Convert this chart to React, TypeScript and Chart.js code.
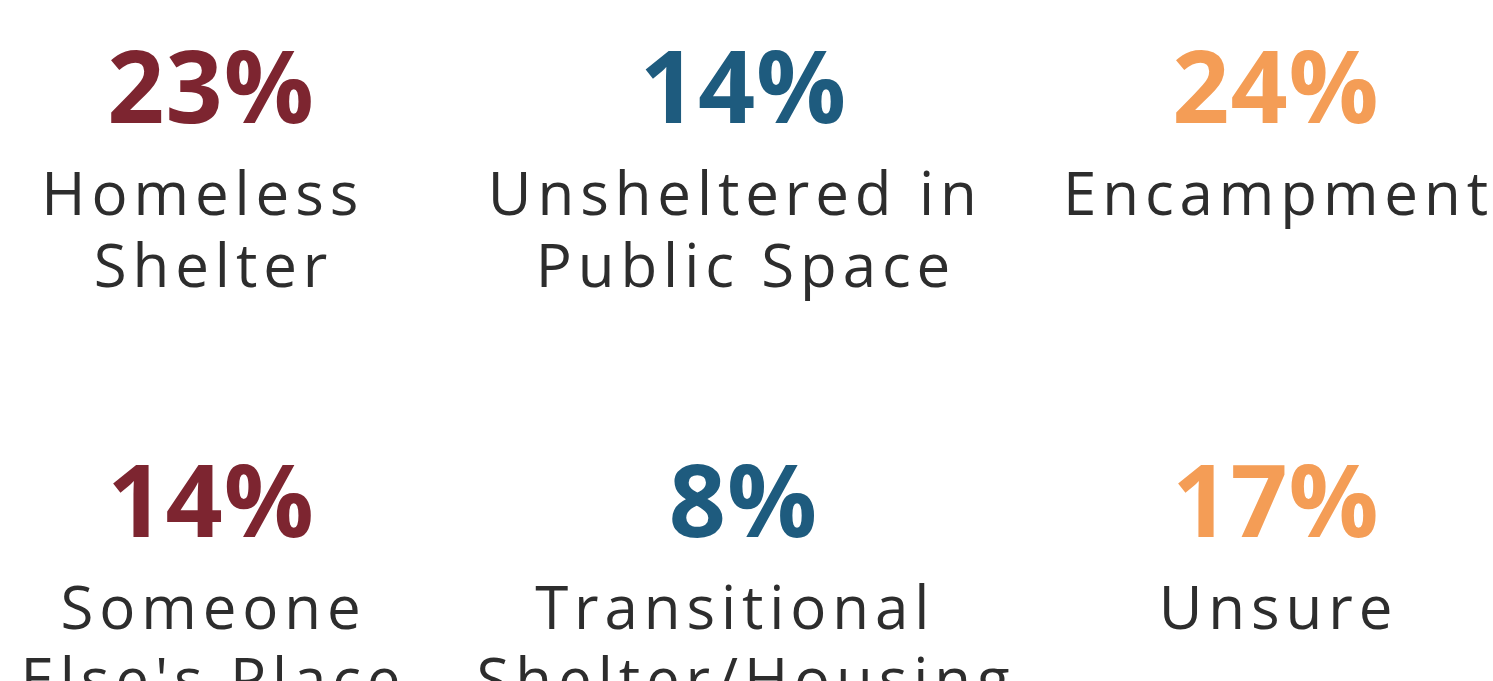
import React, { useEffect, useRef } from "react";
import { Chart, registerables } from "chart.js";

Chart.register(...registerables);

const categories: string[][] = [
  ["Homeless ", "Shelter"],
  ["Unsheltered in ", "Public Space"],
  ["Encampment"],
  ["Someone", "Else's Place"],
  ["Transitional ", "Shelter/Housing"],
  ["Unsure"],
];
const values: number[] = [23, 14, 24, 14, 8, 17];
const columnColors: string[] = ["#7d2530", "#1e5b7e", "#f49d56"];
const COLS = 3;

const tilePlugin = {
  id: "tileText",
  afterDatasetsDraw(chart: any) {
    const ctx = chart.ctx as CanvasRenderingContext2D;
    const meta = chart.getDatasetMeta(0);
    meta.data.forEach((pt: any, i: number) => {
      const x = pt.x;
      const y = pt.y;
      ctx.save();
      ctx.textAlign = "center";
      ctx.textBaseline = "alphabetic";
      (ctx as any).letterSpacing = "1px";
      ctx.font = "bold 100px 'Open Sans'";
      ctx.fillStyle = columnColors[i % COLS];
      ctx.fillText(values[i] + "%", x + 0.5, y);
      (ctx as any).letterSpacing = "5.9px";
      ctx.font = "60px 'Open Sans'";
      ctx.fillStyle = "#2d2d2d";
      categories[i].forEach((line, k) => {
        ctx.fillText(line, x + 3, y + 92 + k * 72);
      });
      ctx.restore();
    });
  },
};

export default function App() {
  const ref = useRef<HTMLCanvasElement | null>(null);
  useEffect(() => {
    document.body.style.margin = "0";
    document.body.style.overflow = "hidden";
    if (!ref.current) return;
    const chart = new Chart(ref.current, {
      type: "scatter",
      data: {
        datasets: [
          {
            data: values.map((v, i) => ({ x: i % COLS, y: Math.floor(i / COLS) })),
            pointRadius: 0,
            pointHoverRadius: 0,
          },
        ],
      },
      options: {
        animation: false,
        responsive: false,
        maintainAspectRatio: false,
        layout: { padding: 0 },
        plugins: { legend: { display: false }, tooltip: { enabled: false } },
        scales: {
          x: { type: "linear", display: false, min: -0.3953, max: 2.4085 },
          y: { type: "linear", display: false, reverse: true, min: -0.2971, max: 1.3478 },
        },
      },
      plugins: [tilePlugin],
    });
    return () => chart.destroy();
  }, []);
  return (
    <div style={{ width: 1493, height: 681, background: "#fff" }}>
      <canvas ref={ref} width={1493} height={681} style={{ display: "block" }} />
    </div>
  );
}
